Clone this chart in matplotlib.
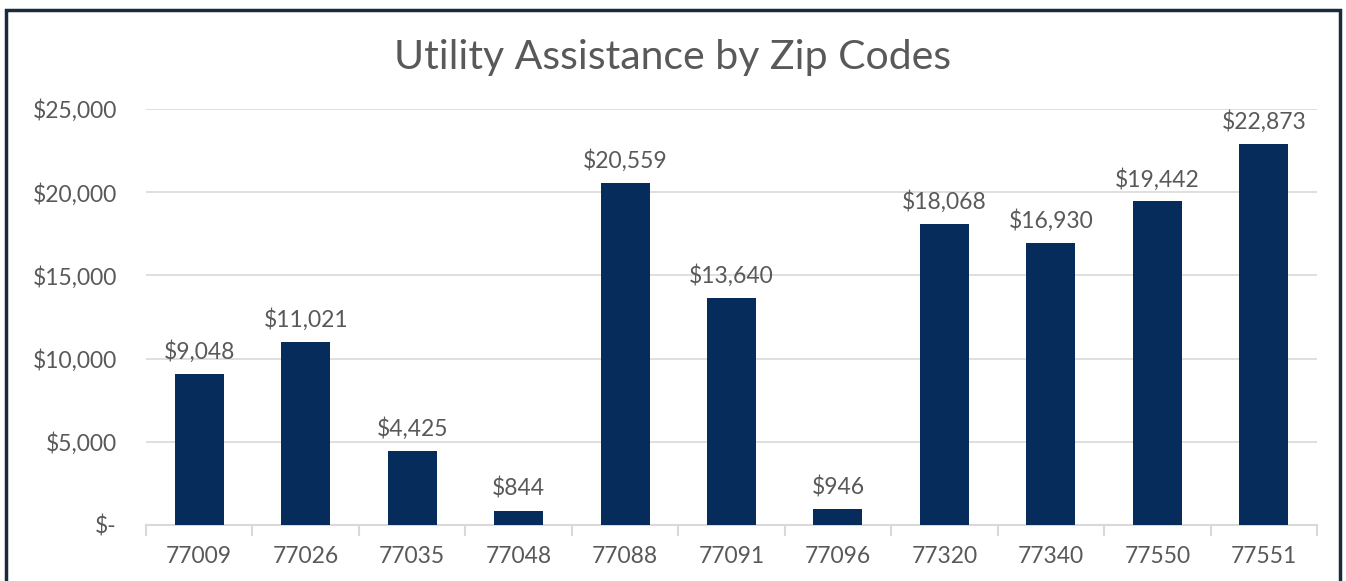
import matplotlib.pyplot as plt
from matplotlib.patches import Rectangle

# datos
zip_codes = ['77009', '77026', '77035', '77048', '77088', '77091',
             '77096', '77320', '77340', '77550', '77551']
amounts = [9048, 11021, 4425, 844, 20559, 13640, 946, 18068, 16930, 19442, 22873]
y_ticks = [0, 5000, 10000, 15000, 20000, 25000]
y_labels = ['$-', '$5,000', '$10,000', '$15,000', '$20,000', '$25,000']

bar_color = '#062C5C'
text_color = '#595959'
grid_color = '#D9D9D9'

plt.rcParams['font.family'] = ['Lato', 'DejaVu Sans']

fig = plt.figure(figsize=(13.46, 5.81), dpi=100)
ax = fig.add_axes([146 / 1346, 1 - 525 / 581, (1317 - 146) / 1346, (525 - 109) / 581])

x = range(len(zip_codes))
ax.bar(x, amounts, width=0.46, color=bar_color, zorder=3)

for i, v in zip(x, amounts):
    ax.annotate(f'${v:,}', (i, v), xytext=(0, 8), textcoords='offset points',
                ha='center', va='bottom', fontsize=16.5, color=text_color)

ax.set_xlim(-0.5, len(zip_codes) - 0.5)
ax.set_ylim(0, 25000)
ax.set_yticks(y_ticks)
ax.set_yticklabels(y_labels)
ax.set_xticks(list(x))
ax.set_xticklabels(zip_codes)
ax.tick_params(axis='y', length=0, pad=21, labelsize=16.5, labelcolor=text_color)
ax.tick_params(axis='x', length=0, pad=15, labelsize=16.5, labelcolor=text_color)

# separadores de categorias en el eje x
for b in [i - 0.5 for i in range(len(zip_codes) + 1)]:
    ax.plot([b, b], [0, -0.025], transform=ax.get_xaxis_transform(),
            color=grid_color, lw=1.5, clip_on=False)

ax.grid(axis='y', color=grid_color, lw=1.2, zorder=0)
for s in ['top', 'right', 'left']:
    ax.spines[s].set_visible(False)
ax.spines['bottom'].set_color(grid_color)
ax.spines['bottom'].set_linewidth(1.5)

fig.text(0.5, 1 - 57 / 581, 'Utility Assistance by Zip Codes', ha='center', va='center',
         fontsize=29.5, color=text_color)

# marco exterior
fig.patches.append(Rectangle((6 / 1346, -0.1), (1340 - 6) / 1346, 1.1 - 10 / 581,
                             transform=fig.transFigure, fill=False,
                             edgecolor='#1B2A3A', lw=2.5))

fig.savefig('out.png', dpi=100)
